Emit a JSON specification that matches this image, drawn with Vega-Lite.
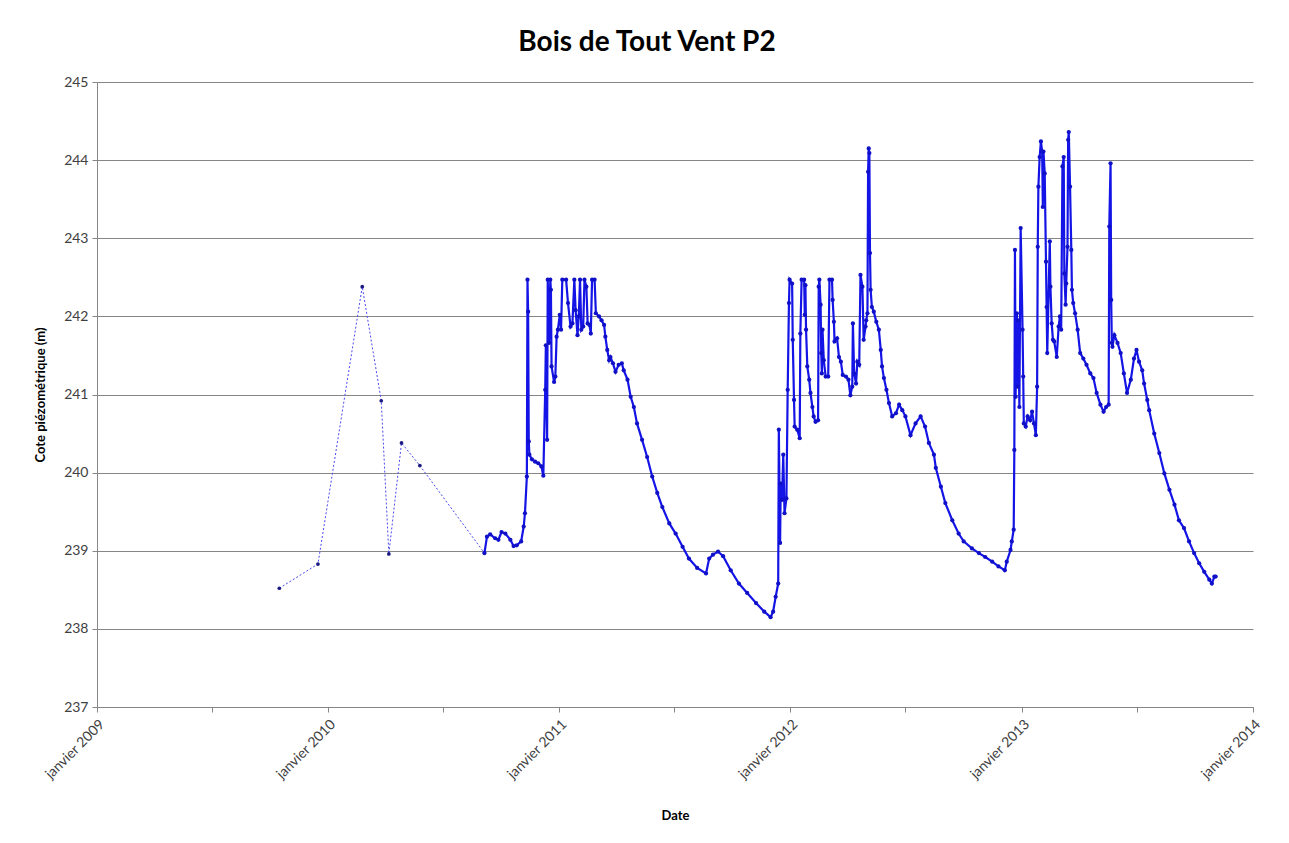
{
  "$schema": "https://vega.github.io/schema/vega-lite/v6.json",
  "width": 1156,
  "height": 625,
  "autosize": {"type": "none"},
  "padding": {"left": 97, "top": 82, "right": 36, "bottom": 136},
  "background": "white",
  "title": {"text": "Bois de Tout Vent P2", "font": "Lato", "fontSize": 28, "fontWeight": "bold", "color": "#000000", "anchor": "middle", "offset": 18, "dx": -28},
  "config": {
    "view": {"stroke": null},
    "axis": {"labelFont": "Lato", "titleFont": "Lato", "labelFontSize": 14, "labelColor": "#404040", "titleFontSize": 13, "titleFontWeight": "bold", "titleColor": "#000000", "domainColor": "#868686", "tickColor": "#868686", "gridColor": "#868686", "gridWidth": 1, "gridOpacity": 1}
  },
  "datasets": {
    "manuel": [
      {"date": "2009-10-16", "cote": 238.52},
      {"date": "2009-12-16", "cote": 238.83},
      {"date": "2010-02-24", "cote": 242.38},
      {"date": "2010-03-26", "cote": 240.92},
      {"date": "2010-04-07", "cote": 238.96},
      {"date": "2010-04-27", "cote": 240.38},
      {"date": "2010-05-26", "cote": 240.09},
      {"date": "2010-09-05", "cote": 238.97}
    ],
    "continu": [
      {"date":"2010-09-05","cote":238.97},{"date":"2010-09-09","cote":239.18},{"date":"2010-09-14","cote":239.21},{"date":"2010-09-22","cote":239.16},{"date":"2010-09-27","cote":239.14},{"date":"2010-10-02","cote":239.24},{"date":"2010-10-08","cote":239.22},{"date":"2010-10-16","cote":239.14},{"date":"2010-10-21","cote":239.06},{"date":"2010-10-26","cote":239.07},{"date":"2010-11-02","cote":239.12},{"date":"2010-11-06","cote":239.31},{"date":"2010-11-08","cote":239.48},{"date":"2010-11-11","cote":239.95},{"date":"2010-11-12","cote":242.47},{"date":"2010-11-13","cote":242.06},{"date":"2010-11-14","cote":240.40},{"date":"2010-11-15","cote":240.23},{"date":"2010-11-19","cote":240.17},{"date":"2010-11-24","cote":240.14},{"date":"2010-11-29","cote":240.12},{"date":"2010-12-04","cote":240.08},{"date":"2010-12-07","cote":239.96},{"date":"2010-12-10","cote":241.06},{"date":"2010-12-11","cote":241.63},{"date":"2010-12-13","cote":240.42},{"date":"2010-12-14","cote":242.47},{"date":"2010-12-16","cote":241.66},{"date":"2010-12-18","cote":242.47},{"date":"2010-12-19","cote":242.34},{"date":"2010-12-20","cote":241.36},{"date":"2010-12-24","cote":241.16},{"date":"2010-12-26","cote":241.23},{"date":"2010-12-28","cote":241.74},{"date":"2010-12-30","cote":241.83},
      {"date":"2011-01-02","cote":242.02},{"date":"2011-01-04","cote":241.83},{"date":"2011-01-06","cote":242.47},{"date":"2011-01-12","cote":242.47},{"date":"2011-01-15","cote":242.17},{"date":"2011-01-19","cote":241.87},{"date":"2011-01-22","cote":241.91},{"date":"2011-01-25","cote":242.47},{"date":"2011-01-27","cote":242.08},{"date":"2011-01-30","cote":241.76},{"date":"2011-02-01","cote":242.00},{"date":"2011-02-03","cote":242.47},{"date":"2011-02-05","cote":241.83},{"date":"2011-02-08","cote":241.87},{"date":"2011-02-10","cote":242.47},{"date":"2011-02-13","cote":242.38},{"date":"2011-02-15","cote":241.91},{"date":"2011-02-18","cote":241.89},{"date":"2011-02-20","cote":241.78},{"date":"2011-02-22","cote":242.47},{"date":"2011-02-26","cote":242.47},{"date":"2011-02-28","cote":242.04},{"date":"2011-03-05","cote":242.00},{"date":"2011-03-09","cote":241.95},{"date":"2011-03-13","cote":241.89},{"date":"2011-03-15","cote":241.74},{"date":"2011-03-18","cote":241.57},{"date":"2011-03-21","cote":241.44},{"date":"2011-03-23","cote":241.48},{"date":"2011-03-27","cote":241.40},{"date":"2011-03-31","cote":241.29},{"date":"2011-04-05","cote":241.38},{"date":"2011-04-10","cote":241.40},{"date":"2011-04-13","cote":241.31},{"date":"2011-04-19","cote":241.19},{"date":"2011-04-24","cote":240.97},{"date":"2011-04-29","cote":240.84},{"date":"2011-05-04","cote":240.63},{"date":"2011-05-12","cote":240.42},{"date":"2011-05-20","cote":240.20},{"date":"2011-05-28","cote":239.95},{"date":"2011-06-05","cote":239.74},{"date":"2011-06-13","cote":239.56},{"date":"2011-06-24","cote":239.35},{"date":"2011-07-04","cote":239.22},{"date":"2011-07-15","cote":239.05},{"date":"2011-07-25","cote":238.90},{"date":"2011-08-07","cote":238.78},{"date":"2011-08-21","cote":238.71},{"date":"2011-08-26","cote":238.90},{"date":"2011-09-01","cote":238.95},{"date":"2011-09-09","cote":238.99},{"date":"2011-09-17","cote":238.93},{"date":"2011-09-29","cote":238.75},{"date":"2011-10-12","cote":238.58},{"date":"2011-10-25","cote":238.46},{"date":"2011-11-08","cote":238.33},{"date":"2011-11-21","cote":238.22},{"date":"2011-12-01","cote":238.15},{"date":"2011-12-05","cote":238.22},{"date":"2011-12-09","cote":238.41},{"date":"2011-12-13","cote":238.58},{"date":"2011-12-14","cote":240.55},{"date":"2011-12-16","cote":239.10},{"date":"2011-12-17","cote":239.86},{"date":"2011-12-19","cote":239.65},{"date":"2011-12-21","cote":240.23},{"date":"2011-12-23","cote":239.48},{"date":"2011-12-26","cote":239.67},{"date":"2011-12-28","cote":241.06},{"date":"2011-12-30","cote":242.17},{"date":"2011-12-31","cote":242.47},
      {"date":"2012-01-04","cote":242.42},{"date":"2012-01-05","cote":241.70},{"date":"2012-01-07","cote":240.93},{"date":"2012-01-08","cote":240.59},{"date":"2012-01-12","cote":240.55},{"date":"2012-01-16","cote":240.44},{"date":"2012-01-17","cote":241.78},{"date":"2012-01-19","cote":242.47},{"date":"2012-01-23","cote":242.47},{"date":"2012-01-24","cote":242.02},{"date":"2012-01-25","cote":242.40},{"date":"2012-01-26","cote":241.83},{"date":"2012-01-28","cote":241.36},{"date":"2012-01-31","cote":241.19},{"date":"2012-02-02","cote":241.02},{"date":"2012-02-05","cote":240.84},{"date":"2012-02-07","cote":240.72},{"date":"2012-02-10","cote":240.65},{"date":"2012-02-14","cote":240.67},{"date":"2012-02-15","cote":242.38},{"date":"2012-02-16","cote":242.47},{"date":"2012-02-18","cote":242.15},{"date":"2012-02-19","cote":241.53},{"date":"2012-02-20","cote":241.27},{"date":"2012-02-21","cote":241.83},{"date":"2012-02-23","cote":241.44},{"date":"2012-02-26","cote":241.23},{"date":"2012-03-01","cote":241.23},{"date":"2012-03-03","cote":242.47},{"date":"2012-03-07","cote":242.47},{"date":"2012-03-08","cote":242.21},{"date":"2012-03-10","cote":241.93},{"date":"2012-03-11","cote":241.68},{"date":"2012-03-15","cote":241.72},{"date":"2012-03-18","cote":241.48},{"date":"2012-03-21","cote":241.42},{"date":"2012-03-24","cote":241.25},{"date":"2012-03-29","cote":241.23},{"date":"2012-04-02","cote":241.19},{"date":"2012-04-05","cote":240.99},{"date":"2012-04-08","cote":241.10},{"date":"2012-04-09","cote":241.91},{"date":"2012-04-11","cote":241.27},{"date":"2012-04-14","cote":241.14},{"date":"2012-04-16","cote":241.42},{"date":"2012-04-19","cote":241.38},{"date":"2012-04-21","cote":242.53},{"date":"2012-04-24","cote":242.38},{"date":"2012-04-26","cote":241.70},{"date":"2012-04-29","cote":241.87},{"date":"2012-04-30","cote":241.95},{"date":"2012-05-02","cote":242.04},{"date":"2012-05-03","cote":243.85},{"date":"2012-05-04","cote":244.15},{"date":"2012-05-05","cote":244.09},{"date":"2012-05-06","cote":242.81},{"date":"2012-05-07","cote":242.34},{"date":"2012-05-09","cote":242.12},{"date":"2012-05-12","cote":242.06},{"date":"2012-05-16","cote":241.93},{"date":"2012-05-20","cote":241.83},{"date":"2012-05-23","cote":241.57},{"date":"2012-05-25","cote":241.36},{"date":"2012-05-28","cote":241.21},{"date":"2012-06-01","cote":241.06},{"date":"2012-06-05","cote":240.89},{"date":"2012-06-10","cote":240.72},{"date":"2012-06-16","cote":240.76},{"date":"2012-06-21","cote":240.87},{"date":"2012-06-26","cote":240.80},{"date":"2012-07-01","cote":240.72},{"date":"2012-07-09","cote":240.48},{"date":"2012-07-17","cote":240.63},{"date":"2012-07-25","cote":240.72},{"date":"2012-08-01","cote":240.59},{"date":"2012-08-07","cote":240.38},{"date":"2012-08-15","cote":240.23},{"date":"2012-08-18","cote":240.06},{"date":"2012-08-26","cote":239.82},{"date":"2012-09-02","cote":239.61},{"date":"2012-09-13","cote":239.39},{"date":"2012-09-23","cote":239.22},{"date":"2012-10-01","cote":239.12},{"date":"2012-10-14","cote":239.03},{"date":"2012-10-25","cote":238.97},{"date":"2012-11-04","cote":238.92},{"date":"2012-11-15","cote":238.86},{"date":"2012-11-25","cote":238.80},{"date":"2012-12-05","cote":238.75},{"date":"2012-12-08","cote":238.86},{"date":"2012-12-14","cote":239.01},{"date":"2012-12-16","cote":239.12},{"date":"2012-12-19","cote":239.27},{"date":"2012-12-20","cote":240.29},{"date":"2012-12-21","cote":242.85},{"date":"2012-12-22","cote":240.97},{"date":"2012-12-24","cote":242.04},{"date":"2012-12-25","cote":241.10},{"date":"2012-12-26","cote":241.95},{"date":"2012-12-28","cote":240.84},{"date":"2012-12-30","cote":243.13},
      {"date":"2013-01-02","cote":241.83},{"date":"2013-01-03","cote":241.23},{"date":"2013-01-04","cote":240.63},{"date":"2013-01-07","cote":240.59},{"date":"2013-01-10","cote":240.72},{"date":"2013-01-14","cote":240.67},{"date":"2013-01-17","cote":240.78},{"date":"2013-01-20","cote":240.63},{"date":"2013-01-23","cote":240.48},{"date":"2013-01-25","cote":241.10},{"date":"2013-01-26","cote":242.89},{"date":"2013-01-27","cote":243.66},{"date":"2013-01-29","cote":244.04},{"date":"2013-01-31","cote":244.24},{"date":"2013-02-02","cote":244.11},{"date":"2013-02-03","cote":243.40},{"date":"2013-02-04","cote":244.11},{"date":"2013-02-06","cote":243.83},{"date":"2013-02-08","cote":242.70},{"date":"2013-02-09","cote":242.12},{"date":"2013-02-10","cote":241.53},{"date":"2013-02-14","cote":242.96},{"date":"2013-02-15","cote":242.38},{"date":"2013-02-17","cote":241.91},{"date":"2013-02-19","cote":241.70},{"date":"2013-02-21","cote":241.68},{"date":"2013-02-25","cote":241.48},{"date":"2013-02-28","cote":241.87},{"date":"2013-03-02","cote":242.00},{"date":"2013-03-04","cote":241.83},{"date":"2013-03-06","cote":243.92},{"date":"2013-03-08","cote":244.04},{"date":"2013-03-09","cote":242.55},{"date":"2013-03-11","cote":242.15},{"date":"2013-03-12","cote":242.42},{"date":"2013-03-14","cote":242.89},{"date":"2013-03-15","cote":244.26},{"date":"2013-03-16","cote":244.36},{"date":"2013-03-18","cote":243.66},{"date":"2013-03-20","cote":242.85},{"date":"2013-03-21","cote":242.34},{"date":"2013-03-23","cote":242.17},{"date":"2013-03-26","cote":242.04},{"date":"2013-03-30","cote":241.83},{"date":"2013-04-03","cote":241.53},{"date":"2013-04-08","cote":241.46},{"date":"2013-04-13","cote":241.38},{"date":"2013-04-19","cote":241.27},{"date":"2013-04-24","cote":241.21},{"date":"2013-04-29","cote":241.02},{"date":"2013-05-05","cote":240.87},{"date":"2013-05-10","cote":240.78},{"date":"2013-05-14","cote":240.84},{"date":"2013-05-18","cote":240.87},{"date":"2013-05-19","cote":243.15},{"date":"2013-05-21","cote":243.96},{"date":"2013-05-22","cote":242.21},{"date":"2013-05-23","cote":241.66},{"date":"2013-05-24","cote":241.61},{"date":"2013-05-27","cote":241.76},{"date":"2013-06-01","cote":241.66},{"date":"2013-06-06","cote":241.53},{"date":"2013-06-11","cote":241.27},{"date":"2013-06-16","cote":241.02},{"date":"2013-06-22","cote":241.19},{"date":"2013-06-27","cote":241.46},{"date":"2013-07-01","cote":241.57},{"date":"2013-07-05","cote":241.42},{"date":"2013-07-10","cote":241.31},{"date":"2013-07-13","cote":241.14},{"date":"2013-07-18","cote":240.93},{"date":"2013-07-21","cote":240.80},{"date":"2013-07-29","cote":240.50},{"date":"2013-08-06","cote":240.25},{"date":"2013-08-14","cote":239.99},{"date":"2013-08-22","cote":239.78},{"date":"2013-08-30","cote":239.59},{"date":"2013-09-06","cote":239.39},{"date":"2013-09-14","cote":239.29},{"date":"2013-09-22","cote":239.12},{"date":"2013-09-30","cote":238.97},{"date":"2013-10-08","cote":238.84},{"date":"2013-10-16","cote":238.73},{"date":"2013-10-24","cote":238.63},{"date":"2013-10-28","cote":238.58},{"date":"2013-11-01","cote":238.67},{"date":"2013-11-03","cote":238.67}
    ]
  },
  "encoding": {
    "x": {
      "field": "date", "type": "temporal",
      "scale": {"type": "utc", "domain": [{"year": 2009, "month": 1, "date": 1, "utc": true}, {"year": 2014, "month": 1, "date": 1, "utc": true}], "nice": false},
      "axis": {
        "title": "Date", "grid": false, "tickSize": 5, "labelAngle": -45, "labelPadding": 5, "titlePadding": 28,
        "values": [
          {"year": 2009, "month": 1, "date": 1, "utc": true}, {"year": 2009, "month": 7, "date": 1, "utc": true},
          {"year": 2010, "month": 1, "date": 1, "utc": true}, {"year": 2010, "month": 7, "date": 1, "utc": true},
          {"year": 2011, "month": 1, "date": 1, "utc": true}, {"year": 2011, "month": 7, "date": 1, "utc": true},
          {"year": 2012, "month": 1, "date": 1, "utc": true}, {"year": 2012, "month": 7, "date": 1, "utc": true},
          {"year": 2013, "month": 1, "date": 1, "utc": true}, {"year": 2013, "month": 7, "date": 1, "utc": true},
          {"year": 2014, "month": 1, "date": 1, "utc": true}
        ],
        "labelExpr": "utcmonth(datum.value) == 0 ? 'janvier ' + utcyear(datum.value) : ''"
      }
    },
    "y": {
      "field": "cote", "type": "quantitative",
      "scale": {"domain": [237, 245], "nice": false, "zero": false},
      "axis": {"title": "Cote piézométrique (m)", "values": [237, 238, 239, 240, 241, 242, 243, 244, 245], "grid": true, "tickSize": 5, "labelPadding": 4, "titlePadding": 16}
    }
  },
  "layer": [
    {
      "data": {"name": "manuel"},
      "mark": {"type": "line", "color": "#4a4af0", "strokeWidth": 1, "strokeDash": [2, 2]}
    },
    {
      "data": {"name": "manuel"},
      "mark": {"type": "point", "filled": true, "color": "#1a1a80", "size": 14, "opacity": 1}
    },
    {
      "data": {"name": "continu"},
      "mark": {"type": "line", "color": "#1414e6", "strokeWidth": 2.2}
    },
    {
      "data": {"name": "continu"},
      "mark": {"type": "point", "filled": true, "color": "#1010c8", "size": 18, "opacity": 1}
    }
  ]
}
